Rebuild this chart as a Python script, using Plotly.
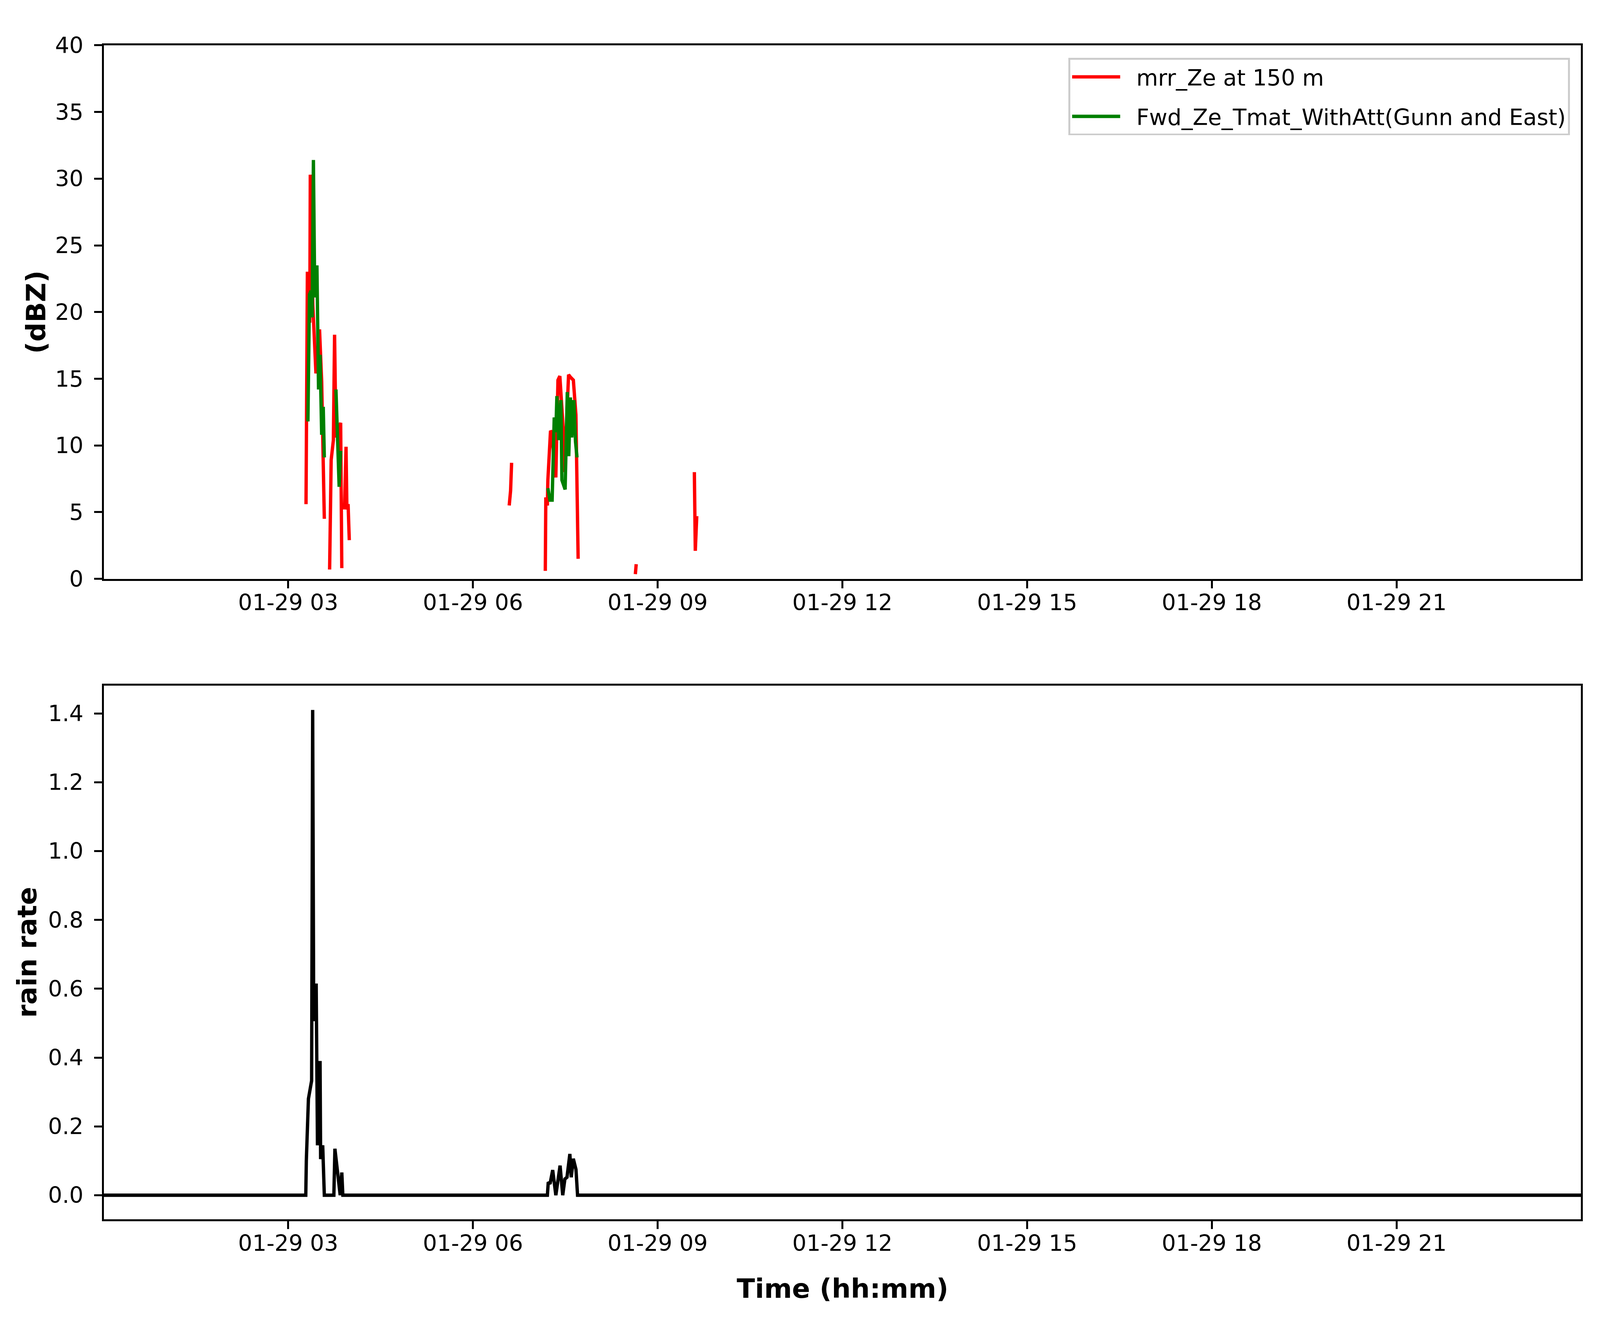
import plotly.graph_objects as go

DAY = "2019-01-29 "

# reflectivity from the MRR at 150 m (None = no echo)
mrr_time = ["03:17:20", "03:18:40", "03:20:00", "03:21:00", "03:21:30", "03:24:00",
            "03:27:00", "03:30:30", "03:32:35", "03:35:10", "03:37:00",
            "03:40:20", "03:41:50", "03:44:00", "03:45:10", "03:46:30", "03:49:40",
            "03:51:05", "03:52:12", "03:54:00",
            "03:54:50", "03:56:20", "03:57:10", "03:58:20", "03:59:30", "04:01:00",
            "06:35:20", "06:36:40", "06:37:40", "06:40:00",
            "07:10:30", "07:11:00", "07:12:30", "07:13:00", "07:15:35", "07:16:40",
            "07:20:45", "07:22:50", "07:24:40", "07:28:30", "07:29:20", "07:33:10",
            "07:35:15", "07:37:50", "07:40:20", "07:41:25", "07:42:30", "07:45:00",
            "08:38:15", "08:39:05", "08:41:00",
            "09:35:45", "09:36:40", "09:38:05"]
mrr_ze = [5.6, 22.9, 22.9, 19.2, 30.3, 20.5,
          15.4, 18.7, 14.8, 4.5, None,
          0.7, 8.9, 10.4, 18.3, 10.6, 11.5,
          11.7, 0.8, None,
          5.2, 9.9, 5.2, 5.6, 2.9, None,
          5.5, 6.6, 8.7, None,
          0.6, 6.1, 5.5, 7.4, 11.1, 11.0,
          7.6, 14.9, 15.2, 10.6, 8.0, 15.3,
          15.1, 14.9, 12.3, 6.7, 1.5, None,
          0.35, 1.1, None,
          8.0, 2.1, 4.7]

# forward-simulated Ze (T-matrix, with attenuation)
fwd_time = ["03:19:12", "03:20:42", "03:22:15", "03:23:17", "03:24:32", "03:25:52",
            "03:27:58", "03:29:31", "03:31:01", "03:32:35", "03:34:08", "03:35:10",
            "03:40:00",
            "03:46:30", "03:49:37", "03:51:07", "03:55:00",
            "07:13:01", "07:15:04", "07:17:10", "07:19:12", "07:20:46", "07:21:47",
            "07:23:20", "07:25:41", "07:26:42", "07:29:49", "07:31:55", "07:33:22",
            "07:34:59", "07:36:14", "07:38:20", "07:39:54", "07:41:24"]
fwd_ze = [11.8, 21.3, 21.6, 19.6, 31.4, 21.1,
          23.5, 14.2, 16.8, 10.8, 12.9, 9.1,
          None,
          14.2, 6.9, 9.6, None,
          6.8, 5.9, 5.9, 12.1, 11.0, 13.7,
          10.4, 13.4, 7.4, 6.7, 14.0, 9.2,
          13.6, 10.6, 13.4, 10.3, 9.1]

# surface rain rate
rain_time = ["00:00:20", "03:17:06", "03:17:38", "03:19:41", "03:22:48", "03:23:49",
             "03:24:50", "03:27:14", "03:28:30", "03:31:01", "03:31:34", "03:33:36",
             "03:35:10", "03:44:28", "03:45:29", "03:48:04", "03:50:38", "03:52:12",
             "03:53:13", "07:12:32", "07:13:23", "07:15:07", "07:17:42", "07:20:46",
             "07:24:54", "07:27:29", "07:29:35", "07:31:37", "07:32:10", "07:34:26",
             "07:35:46", "07:37:48", "07:40:23", "07:41:56", "23:59:40"]
rain_rate = [0.0, 0.0, 0.10, 0.28, 0.333, 1.41,
             0.506, 0.615, 0.145, 0.39, 0.105, 0.145,
             0.0, 0.0, 0.135, 0.056, 0.0, 0.066,
             0.0, 0.0, 0.038, 0.033, 0.073, 0.0,
             0.086, 0.0, 0.047, 0.052, 0.067, 0.12,
             0.052, 0.106, 0.075, 0.0, 0.0]

dbz_ticks = [0, 5, 10, 15, 20, 25, 30, 35, 40]
rain_ticks = [0.0, 0.2, 0.4, 0.6, 0.8, 1.0, 1.2, 1.4]

# the window turns out narrower than 5017 css px, so sizes are scaled to fit
S = 1 / 1.216
FONT = "DejaVu Sans"
TICK_PX = 69.4 * S
LABEL_PX = 83.3 * S
LW = 10.4 * S
SPINE = 5.6 * S
TICKLEN = round(24 * S)
GAP = "\u00a0\u00a0"  # room between legend line and label

fig = go.Figure()
fig.add_trace(go.Scatter(x=[DAY + t for t in mrr_time], y=mrr_ze, mode="lines",
                         name=GAP + "mrr_Ze at 150 m", legendgroup="a",
                         line=dict(color="red", width=LW), xaxis="x", yaxis="y"))
fig.add_trace(go.Scatter(x=[DAY + t for t in fwd_time], y=fwd_ze, mode="lines",
                         name=GAP + "Fwd_Ze_Tmat_WithAtt(Gunn and East)", legendgroup="b",
                         line=dict(color="green", width=LW), xaxis="x", yaxis="y"))
fig.add_trace(go.Scatter(x=[DAY + t for t in rain_time], y=rain_rate, mode="lines",
                         line=dict(color="black", width=LW), showlegend=False,
                         xaxis="x2", yaxis="y2"))

xrange = [DAY + rain_time[0], DAY + rain_time[-1]]
common_x = dict(type="date", range=xrange, tickformat="%m-%d %H",
                tick0=DAY + "03:00", dtick=3 * 3600 * 1000,
                showgrid=False, zeroline=False, showline=True, mirror=True,
                linecolor="black", linewidth=SPINE, ticks="outside", ticklen=TICKLEN,
                tickwidth=SPINE, tickcolor="black", ticklabelstandoff=-13,
                tickfont=dict(family=FONT, size=TICK_PX, color="black"))
common_y = dict(showgrid=False, zeroline=False, showline=True, mirror=True,
                linecolor="black", linewidth=SPINE, ticks="outside", ticklen=TICKLEN,
                tickwidth=SPINE, tickcolor="black", ticklabelstandoff=16,
                tickfont=dict(family=FONT, size=TICK_PX, color="black"))

fig.update_layout(
    autosize=True,
    margin=dict(l=0, r=0, t=0, b=0),
    paper_bgcolor="white", plot_bgcolor="white",
    font=dict(family=FONT, size=TICK_PX, color="black"),
    xaxis=dict(domain=[0.0632, 0.990], anchor="y", **common_x),
    yaxis=dict(domain=[0.5697, 0.9776], anchor="x", range=[0, 40],
               tickvals=dbz_ticks, **common_y),
    xaxis2=dict(domain=[0.0632, 0.990], anchor="y2", **common_x),
    yaxis2=dict(domain=[0.0799, 0.4880], anchor="x2", range=[-0.0705, 1.4805],
                tickvals=rain_ticks, tickformat=".1f", **common_y),
    legend=dict(x=0.9831, y=0.9679, xanchor="right", yanchor="top",
                bgcolor="white", bordercolor="#cccccc", borderwidth=SPINE,
                font=dict(family=FONT, size=TICK_PX, color="black"),
                itemwidth=123, tracegroupgap=24),
    showlegend=True,
)

bold = dict(family=FONT, size=LABEL_PX, color="black", weight="bold")
fig.add_annotation(text="(dBZ)", x=0.0206, y=0.7737, xref="paper", yref="paper",
                   textangle=-90, showarrow=False, font=bold,
                   xanchor="center", yanchor="middle")
fig.add_annotation(text="rain rate", x=0.0150, y=0.2840, xref="paper", yref="paper",
                   textangle=-90, showarrow=False, font=bold,
                   xanchor="center", yanchor="middle")
fig.add_annotation(text="Time (hh:mm)", x=2642 / 5017, y=0.0271, xref="paper",
                   yref="paper", showarrow=False, font=bold,
                   xanchor="center", yanchor="middle")

fig.write_html("out.html")
